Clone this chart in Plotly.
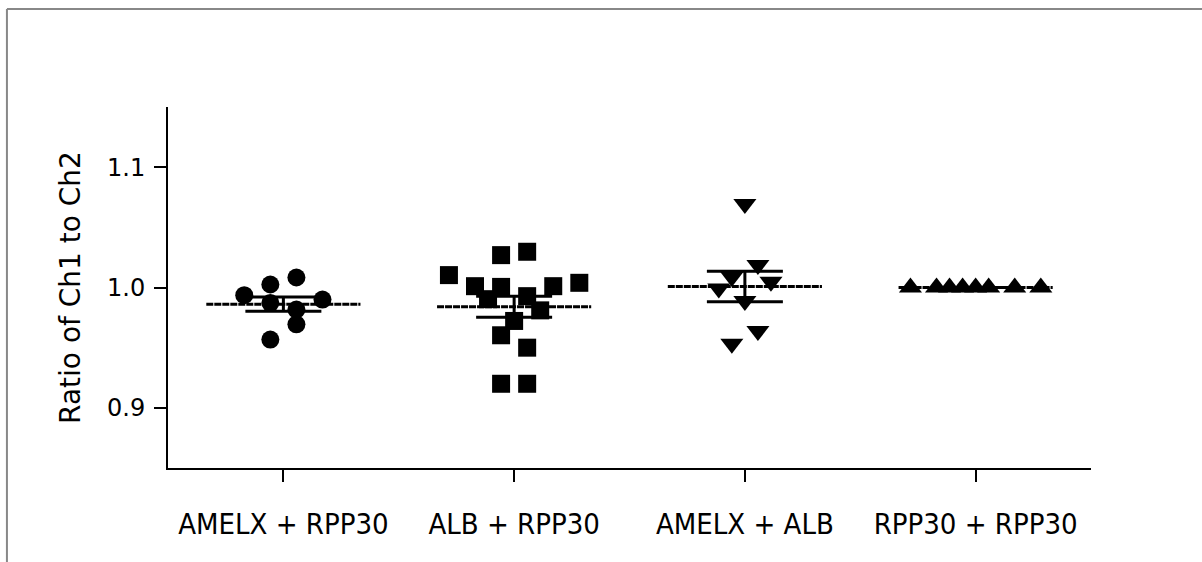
import numpy as np
import plotly.graph_objects as go

# ---- data ----
categories = ["AMELX + RPP30", "ALB + RPP30", "AMELX + ALB", "RPP30 + RPP30"]

amelx_rpp30 = [0.9936, 1.0025, 1.0083, 0.9872, 0.9900, 0.9817, 0.9694, 0.9567]
alb_rpp30 = [1.0103, 1.0269, 1.0297, 1.0011, 1.0005, 1.0011, 1.0039, 0.9903,
             0.9928, 0.9810, 0.9722, 0.9603, 0.9500, 0.9200, 0.9200]
amelx_alb = [1.0694, 1.0186, 1.0088, 1.0047, 0.9992, 0.9888, 0.9638, 0.9533]
rpp30_rpp30 = [1.000, 1.000, 1.000, 1.000, 1.000, 1.000, 1.000, 1.000]

y_ticks = [0.9, 1.0, 1.1]
y_tick_labels = ["0.9", "1.0", "1.1"]

# scatter-column slot of each point (layout of the column scatter)
slots_amelx_rpp30 = [-3, -1, 1, -1, 3, 1, 1, -1]
slots_alb_rpp30 = [-5, -1, 1, -3, -1, 3, 5, -2, 1, 2, 0, -1, 1, -1, 1]
slots_amelx_alb = [0, 1, -1, 2, -2, 0, 1, -1]
slots_rpp30_rpp30 = [-5, -3, -2, -1, 0, 1, 3, 5]

groups = [amelx_rpp30, alb_rpp30, amelx_alb, rpp30_rpp30]
slots = [slots_amelx_rpp30, slots_alb_rpp30, slots_amelx_alb, slots_rpp30_rpp30]
symbols = ["circle", "square", "triangle-down", "triangle-up"]
sizes = [18, 18, 20, 20]

SLOT_W = 0.0565      # category units per slot
MEAN_HALF = 0.334    # half width of mean line
CAP_PX = 38          # error-bar cap half width (px)

fig = go.Figure()

for i, vals in enumerate(groups):
    v = np.array(vals)
    m = v.mean()
    sem = v.std(ddof=1) / np.sqrt(len(v))
    # mean line
    fig.add_trace(go.Scatter(
        x=[i - MEAN_HALF, i + MEAN_HALF], y=[m, m], mode="lines",
        line=dict(color="black", width=3, dash="7px,1px"),
        showlegend=False, hoverinfo="skip"))
    # points
    fig.add_trace(go.Scatter(
        x=[i + s * SLOT_W for s in slots[i]], y=vals, mode="markers",
        marker=dict(symbol=symbols[i], size=sizes[i], color="black",
                    line=dict(width=0)),
        showlegend=False))
    # SEM error bar
    fig.add_trace(go.Scatter(
        x=[i], y=[m], mode="markers",
        marker=dict(size=1, color="rgba(0,0,0,0)"),
        error_y=dict(type="data", array=[sem], visible=True,
                     color="black", thickness=3, width=CAP_PX),
        showlegend=False, hoverinfo="skip"))

# outer grey frame (top and left visible)
fig.add_shape(type="line", xref="paper", yref="paper",
              x0=-0.1745, x1=1.2, y0=1.2715, y1=1.2715,
              line=dict(color="#888888", width=2))
fig.add_shape(type="line", xref="paper", yref="paper",
              x0=-0.1745, x1=-0.1745, y0=1.2715, y1=-0.4,
              line=dict(color="#888888", width=2))

fig.update_layout(
    width=1202, height=562,
    margin=dict(l=168, r=111, t=107, b=94),
    plot_bgcolor="white", paper_bgcolor="white",
    showlegend=False,
)

fig.update_xaxes(
    range=[-0.5, 3.5],
    tickmode="array", tickvals=[0, 1, 2, 3], ticktext=categories,
    showline=True, linecolor="black", linewidth=2,
    ticks="outside", ticklen=12, tickwidth=2, tickcolor="black",
    ticklabelstandoff=17,
    tickfont=dict(family="DejaVu Sans Condensed, Liberation Sans Narrow, DejaVu Sans",
                  size=29, color="black"),
    showgrid=False, zeroline=False,
)
fig.update_yaxes(
    range=[0.85, 1.15],
    tickmode="array", tickvals=y_ticks, ticktext=y_tick_labels,
    showline=True, linecolor="black", linewidth=2,
    ticks="outside", ticklen=12, tickwidth=2, tickcolor="black",
    ticklabelstandoff=4,
    tickfont=dict(family="DejaVu Sans", size=24, color="black"),
    title=dict(text="Ratio of Ch1 to Ch2",
               font=dict(family="DejaVu Sans", size=28, color="black"),
               standoff=18),
    showgrid=False, zeroline=False,
)

fig.write_html("out.html",
               config={"displayModeBar": False},
               post_script="document.body.style.margin='0';document.body.style.overflow='hidden';")
